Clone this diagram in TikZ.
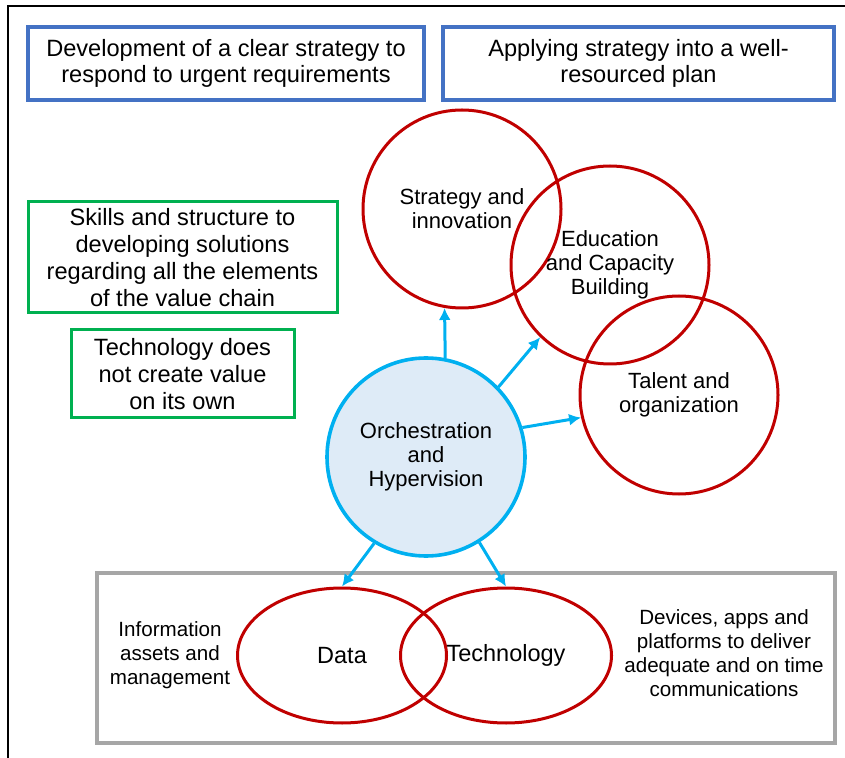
\documentclass[tikz,border=0pt]{standalone}
\usepackage{fontspec}
\setmainfont{Liberation Sans}
\usepackage{tikz}
\usetikzlibrary{arrows.meta,positioning,shapes.geometric}
\definecolor{goalblue}{HTML}{4472C4}
\definecolor{notegreen}{HTML}{00B050}
\definecolor{ringred}{HTML}{C00000}
\definecolor{linkcyan}{HTML}{00B0F0}
\definecolor{hubfill}{HTML}{DEEBF7}
\definecolor{panelgray}{HTML}{A6A6A6}

\begin{document}
\begin{tikzpicture}[>=Latex,x=0.5pt,y=-0.5pt]
    \tikzstyle{gbox}=[draw=goalblue,line width=2pt,minimum height=36.5pt,align=center,font=\fontsize{11.8}{13}\selectfont]
    \tikzstyle{nbox}=[draw=notegreen,line width=1.5pt,align=center,inner sep=0pt,font=\fontsize{11.8}{13.6}\selectfont]
    \tikzstyle{ring}=[circle,draw=ringred,line width=1.5pt,minimum size=99pt,inner sep=0pt,align=center,font=\fontsize{11}{12}\selectfont]
    \tikzstyle{lens}=[ellipse,draw=ringred,line width=1.5pt,minimum height=67.5pt,inner sep=0pt,font=\fontsize{11.75}{13}\selectfont]
    \tikzstyle{side}=[align=center,font=\fontsize{10.3}{12}\selectfont]
    \tikzstyle{link}=[-{Latex[length=6pt,width=6pt]},draw=linkcyan,line width=1.5pt]
    \useasboundingbox (0,0) rectangle (845,758);
    \draw[line width=1pt] (8,758) -- (8,6) -- (845,6);
    % goals on top
    \node[gbox,minimum width=198pt] (clear) at (226,63.5) {Development of a clear strategy to\\respond to urgent requirements};
    \node[gbox,minimum width=195.5pt] (plan) at (638.5,63.5) {Applying strategy into a well-\\resourced plan};
    % notes on the left
    \node[nbox,minimum width=154.5pt,minimum height=55.5pt] (skills) at (182.5,257.5) {Skills and structure to\\developing solutions\\regarding all the elements\\of the value chain};
    \node[nbox,minimum width=111.5pt,minimum height=44pt] (alone) at (182.5,374) {Technology does\\not create value\\on its own};
    % bottom panel
    \node[draw=panelgray,line width=2pt,minimum width=369pt,minimum height=85pt] (base) at (466,658) {};
    \node[lens,minimum width=104.5pt] (data) at (342,655.5) {Data};
    \node[lens,minimum width=105.5pt] (tech) at (506,655.5) {Technology};
    \node[side] (info) at (170,655) {Information\\assets and\\management};
    \node[side] (devs) at (724,653) {Devices, apps and\\platforms to deliver\\adequate and on time\\communications};
    % rings
    \node[ring] (strat) at (462,209) {Strategy and\\innovation};
    \node[ring] (edu) at (610,265) {Education\\and Capacity\\Building};
    \node[ring] (talent) at (679,395) {Talent and\\organization};
    \node[ring,draw=linkcyan,fill=hubfill,line width=1.8pt] (hub) at (426,457) {Orchestration\\and\\Hypervision};
    \draw[link] (hub.79) -- (strat.260);
    \draw[link] (hub.44) -- (edu.226);
    \draw[link] (hub.17) -- (talent.193);
    \draw[link] (hub.239) -- (data.north);
    \draw[link] (hub.302) -- (tech.north);
  \end{tikzpicture}
\end{document}
